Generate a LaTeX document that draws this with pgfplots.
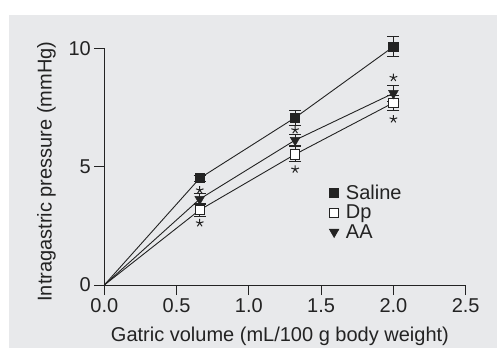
\documentclass[border=0pt]{standalone}
\usepackage{pgfplots}
\pgfplotsset{compat=1.18}
\usepackage{fontspec}
\setmainfont{Liberation Sans}
\definecolor{bg}{RGB}{232,233,235}
\definecolor{ln}{RGB}{35,35,35}
\newcommand\bigf{\fontsize{20bp}{24bp}\selectfont}
\pgfplotstableread{
x y e
0.66 4.51 0.12
1.32 7.07 0.32
2.00 10.07 0.42
}\tSal
\pgfplotstableread{
x y e
0.66 3.17 0.28
1.32 5.52 0.32
2.00 7.70 0.31
}\tDp
\pgfplotstableread{
x y e
0.66 3.63 0.22
1.32 6.12 0.22
2.00 8.10 0.35
}\tAA
\pgfplotstableread{
x y
0.66 4.01
0.66 2.62
1.32 6.55
1.32 4.89
2.00 8.76
2.00 7.01
}\tStars
\begin{document}
\begin{tikzpicture}[x=1bp,y=1bp]
\useasboundingbox (-104.3,-73) rectangle (392.7,285);
\fill[white] (-104.3,-73) rectangle (392.7,285);
\fill[bg] (-95.3,-63) rectangle (392.7,270);
\begin{axis}[
  at={(0,0)}, anchor=south west,
  scale only axis, width=361.4bp, height=236.7bp,
  xmin=0, xmax=2.5, ymin=0, ymax=10,
  clip=false,
  axis x line*=bottom, axis y line*=left,
  axis line style={ln, line width=0.9bp},
  xtick={0,0.5,1,1.5,2,2.5}, ytick={0,5,10},
  tick align=outside, major tick length=10bp,
  tick style={ln, line width=0.9bp},
  xticklabel style={/pgf/number format/.cd, fixed, fixed zerofill, precision=1},
  /pgf/number format/assume math mode=true,
  tick label style={font=\bigf, text=ln},
  label style={font=\bigf, text=ln},
  xlabel={Gatric volume (mL/100 g body weight)},
  ylabel={Intragastric pressure (mmHg)},
  xlabel style={at={(axis description cs:0.486,-0.2366)}, anchor=base},
  ylabel style={at={(axis description cs:-0.16,0.479)}, anchor=center},
  legend image code/.code={\draw[#1] plot coordinates {(0bp,0bp)};},
  legend cell align=left,
  legend style={draw=none, fill=none, font=\bigf, text=ln, inner sep=0pt,
    at={(axis cs:1.555,3.07)}, anchor=west, column sep=5bp},
]
% lines
\addplot[ln, line width=0.9bp, forget plot] coordinates {(0,0) (0.66,4.51) (1.32,7.07) (2.00,10.07)};
\addplot[ln, line width=0.9bp, forget plot] coordinates {(0,0) (0.66,3.17) (1.32,5.52) (2.00,7.70)};
\addplot[ln, line width=0.9bp, forget plot] coordinates {(0,0) (0.66,3.63) (1.32,6.12) (2.00,8.10)};
% markers with error bars
\addplot[ln, only marks, forget plot, mark=square*, mark size=4.6bp, mark options={fill=ln, draw=ln, line width=0.8bp},
  error bars/.cd, y dir=both, y explicit,
  error bar style={ln, line width=0.9bp},
  error mark options={rotate=90, mark size=6bp, ln, line width=0.9bp}]
  table[x=x, y=y, y error=e] {\tSal};
\addplot[ln, only marks, forget plot, mark=square*, mark size=4.6bp, mark options={fill=white, draw=ln, line width=0.8bp},
  error bars/.cd, y dir=both, y explicit,
  error bar style={ln, line width=0.9bp},
  error mark options={rotate=90, mark size=6bp, ln, line width=0.9bp}]
  table[x=x, y=y, y error=e] {\tDp};
\addplot[ln, only marks, forget plot, mark=triangle*, mark size=5.6bp, mark options={rotate=180, fill=ln, draw=ln, line width=0.5bp},
  error bars/.cd, y dir=both, y explicit,
  error bar style={ln, line width=0.9bp},
  error mark options={rotate=90, mark size=6bp, ln, line width=0.9bp}]
  table[x=x, y=y, y error=e] {\tAA};
% significance stars
\addplot[ln, only marks, forget plot, mark=star, mark size=4bp, mark options={line width=1bp}]
  table[x=x, y=y] {\tStars};
% legend
\addlegendimage{mark=square*, mark size=4.4bp, mark options={fill=ln, draw=ln, line width=0.8bp}}
\addlegendentry{Saline}
\addlegendimage{mark=square*, mark size=4.4bp, mark options={fill=white, draw=ln, line width=0.8bp}}
\addlegendentry{Dp}
\addlegendimage{mark=triangle*, mark size=5.6bp, mark options={rotate=180, fill=ln, draw=ln, line width=0.5bp}}
\addlegendentry{AA}
\end{axis}
\end{tikzpicture}
\end{document}
